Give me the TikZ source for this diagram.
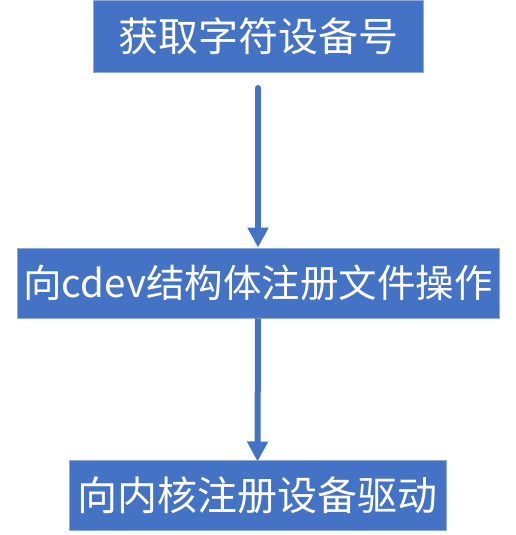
\documentclass[tikz,border=0pt]{standalone}
\usepackage{fontspec}
\setmainfont{Noto Sans CJK SC}
\usepackage{tikz}
\usetikzlibrary{arrows.meta}
\definecolor{boxblue}{HTML}{4472C4}
\definecolor{boxedge}{HTML}{8FAADC}
\tikzset{stepbox/.style={rectangle,draw=boxedge,line width=1pt,fill=boxblue,text=white,
    inner sep=0pt,font=\fontsize{40}{42}\selectfont},
  flow/.style={draw=boxblue,line width=6pt,-{Triangle[width=20pt,length=20pt]}}}
\def\stepnode{\node[stepbox]}

\begin{document}
\begin{tikzpicture}[x=1pt,y=-1pt]
\useasboundingbox (0,0) rectangle (516,535);
\stepnode[minimum width=330pt,minimum height=71pt] (devno) at (258,36.5) {获取字符设备号};
\stepnode[minimum width=482pt,minimum height=70pt,font=\fontsize{38.5}{40}\selectfont] (fops) at (258,283) {向cdev结构体注册文件操作};
\stepnode[minimum width=377pt,minimum height=70pt] (drv) at (257.5,495) {向内核注册设备驱动};
\coordinate (start) at (258,88);
\draw[flow,line cap=round] (start) -- (fops.north);
\draw[flow] (fops.south) -- ([yshift=-2pt]drv.north);
\end{tikzpicture}
\end{document}
